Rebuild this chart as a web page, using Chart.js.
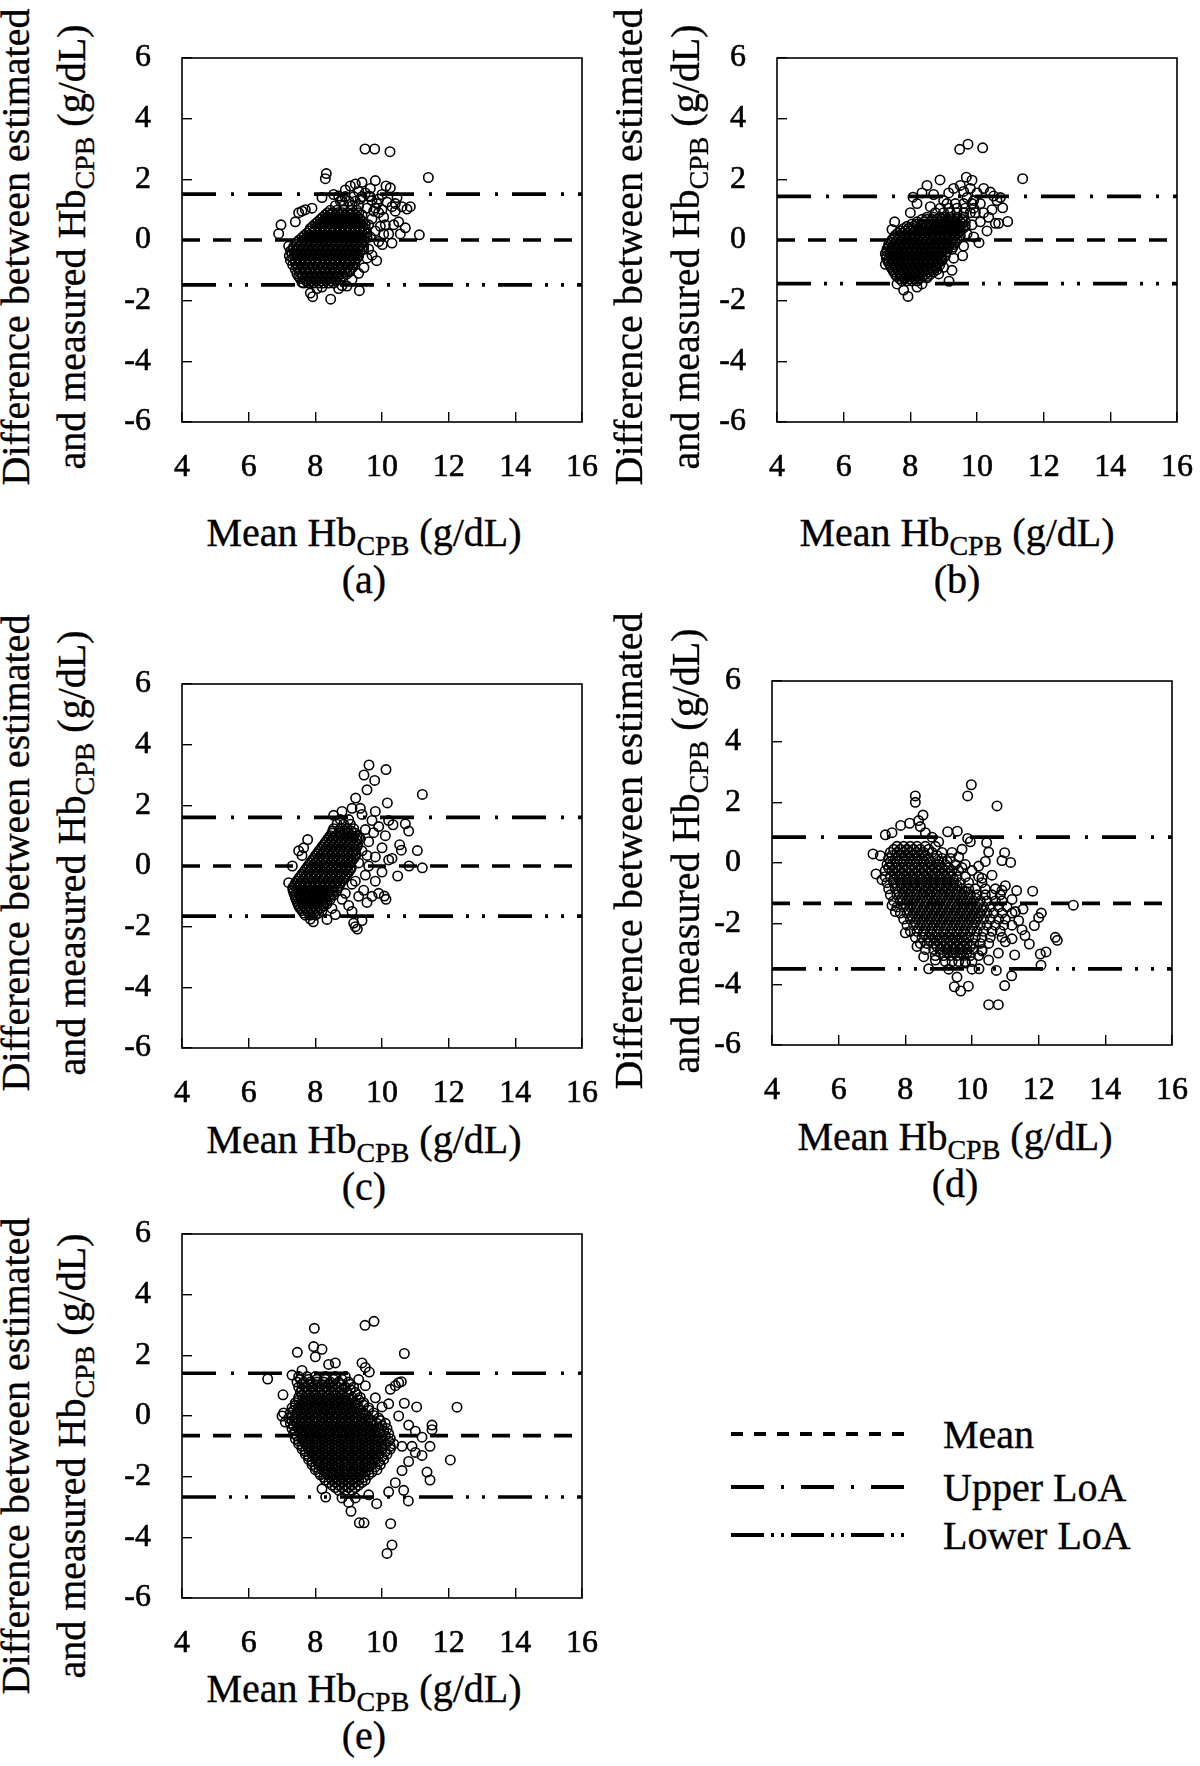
<!DOCTYPE html>
<html><head><meta charset="utf-8">
<script src="https://cdn.jsdelivr.net/npm/chart.js@4.4.1/dist/chart.umd.min.js"></script>
<style>
html,body{margin:0;padding:0;background:#fff;}
body{width:1200px;height:1766px;position:relative;overflow:hidden;font-family:"Liberation Serif","Times New Roman",serif;color:#000;}
canvas{position:absolute;}
.t{position:absolute;white-space:nowrap;font-size:40px;line-height:40px;-webkit-text-stroke:0.35px #000;}
.sub{font-size:28px;line-height:0;position:relative;top:9px;}
.yt{transform:translate(-50%,-50%) rotate(-90deg);}
.xt{transform:translateX(-50%);}
#legend{position:absolute;left:0;top:0;}
</style></head><body>
<svg id="legend" width="1200" height="1766"></svg>
<script>
// ---------------- DATA ----------------
const xTickValues = [4, 6, 8, 10, 12, 14, 16];
const yTickValues = [-6, -4, -2, 0, 2, 4, 6];
const panelNames = ['(a)', '(b)', '(c)', '(d)', '(e)'];
const meanDiff = [0.00, 0.00, 0.00, -1.33, -0.65];
const upperLoA = [1.51, 1.44, 1.60, 0.85, 1.41];
const lowerLoA = [-1.48, -1.44, -1.65, -3.49, -2.67];
const legendLabels = ['Mean', 'Upper LoA', 'Lower LoA'];

// dense cores: [y, [x...]]
const coreA = [
 [-1.42,[7.65,7.8,7.95,8.1,8.25,8.4,8.55]],
 [-1.27,[7.55,7.7,7.85,8.0,8.15,8.3,8.45,8.6,8.75]],
 [-1.12,[7.45,7.6,7.75,7.9,8.05,8.2,8.35,8.5,8.65,8.8,8.95]],
 [-0.97,[7.4,7.55,7.7,7.85,8.0,8.15,8.3,8.45,8.6,8.75,8.9,9.05]],
 [-0.82,[7.32,7.47,7.62,7.77,7.92,8.07,8.22,8.37,8.52,8.67,8.82,8.97,9.12]],
 [-0.67,[7.25,7.4,7.55,7.7,7.85,8.0,8.15,8.3,8.45,8.6,8.75,8.9,9.05,9.2]],
 [-0.52,[7.22,7.37,7.52,7.67,7.82,7.97,8.12,8.27,8.42,8.57,8.72,8.87,9.02,9.17,9.3]],
 [-0.37,[7.25,7.4,7.55,7.7,7.85,8.0,8.15,8.3,8.45,8.6,8.75,8.9,9.05,9.2,9.35]],
 [-0.22,[7.35,7.5,7.65,7.8,7.95,8.1,8.25,8.4,8.55,8.7,8.85,9.0,9.15,9.3,9.45]],
 [-0.07,[7.45,7.6,7.75,7.9,8.05,8.2,8.35,8.5,8.65,8.8,8.95,9.1,9.25,9.4]],
 [0.08,[7.6,7.75,7.9,8.05,8.2,8.35,8.5,8.65,8.8,8.95,9.1,9.25,9.4,9.55]],
 [0.23,[7.75,7.9,8.05,8.2,8.35,8.5,8.65,8.8,8.95,9.1,9.25,9.4,9.55]],
 [0.38,[7.85,8.0,8.15,8.3,8.45,8.6,8.75,8.9,9.05,9.2,9.35,9.5]],
 [0.53,[8.0,8.15,8.3,8.45,8.6,8.75,8.9,9.05,9.2,9.35,9.5]],
 [0.68,[8.15,8.3,8.45,8.6,8.75,8.9,9.05,9.2,9.35]],
 [0.83,[8.3,8.45,8.6,8.75,8.9,9.05,9.2,9.4]],
 [0.98,[8.45,8.65,8.85,9.05,9.25]],
 [1.13,[8.6,8.85,9.1,9.3]],
 [1.28,[8.75,9.0,9.2]],
 [1.43,[8.9,9.15,9.4,9.65]]
];
const coreA2 = [
 [-1.35,[7.72,7.87,8.02,8.17,8.32,8.47,8.62]],
 [-1.2,[7.62,7.77,7.92,8.07,8.22,8.37,8.52,8.67,8.82]],
 [-1.05,[7.52,7.67,7.82,7.97,8.12,8.27,8.42,8.57,8.72,8.87,9.02]],
 [-0.9,[7.47,7.62,7.77,7.92,8.07,8.22,8.37,8.52,8.67,8.82,8.97,9.12]],
 [-0.75,[7.4,7.55,7.7,7.85,8.0,8.15,8.3,8.45,8.6,8.75,8.9,9.05,9.18]],
 [-0.6,[7.32,7.47,7.62,7.77,7.92,8.07,8.22,8.37,8.52,8.67,8.82,8.97,9.12,9.25]],
 [-0.45,[7.3,7.45,7.6,7.75,7.9,8.05,8.2,8.35,8.5,8.65,8.8,8.95,9.1,9.25]],
 [-0.3,[7.32,7.47,7.62,7.77,7.92,8.07,8.22,8.37,8.52,8.67,8.82,8.97,9.12,9.27,9.4]],
 [-0.15,[7.42,7.57,7.72,7.87,8.02,8.17,8.32,8.47,8.62,8.77,8.92,9.07,9.22,9.37]],
 [0.0,[7.52,7.67,7.82,7.97,8.12,8.27,8.42,8.57,8.72,8.87,9.02,9.17,9.32,9.47]],
 [0.15,[7.67,7.82,7.97,8.12,8.27,8.42,8.57,8.72,8.87,9.02,9.17,9.32,9.47]],
 [0.3,[7.82,7.97,8.12,8.27,8.42,8.57,8.72,8.87,9.02,9.17,9.32,9.47]],
 [0.45,[7.92,8.07,8.22,8.37,8.52,8.67,8.82,8.97,9.12,9.27,9.42]],
 [0.6,[8.07,8.22,8.37,8.52,8.67,8.82,8.97,9.12,9.27,9.42]],
 [0.75,[8.22,8.37,8.52,8.67,8.82,8.97,9.12,9.27]],
 [0.9,[8.37,8.52,8.67,8.82,8.97,9.12,9.3]]
];
const sparseA = [[6.9,0.21],[6.97,0.5],[7.2,-0.2],[7.5,0.9],[7.6,0.95],[7.7,1.0],[7.4,0.6],[7.9,1.05],[8.2,1.4],[8.33,2.19],[8.3,2.02],[8.55,1.5],[8.9,1.65],[9.05,1.78],[9.2,1.85],[9.4,1.9],[9.5,1.55],[9.6,1.45],[9.7,1.3],[9.8,1.96],[9.85,1.2],[9.9,0.9],[10.0,1.5],[10.12,1.78],[10.25,1.72],[10.15,1.25],[10.3,1.1],[10.4,0.95],[10.5,0.6],[10.7,0.4],[10.75,1.02],[10.85,1.1],[10.4,1.2],[11.12,0.17],[11.39,2.06],[9.49,3.0],[9.78,3.0],[10.24,2.91],[9.7,0.7],[9.8,0.3],[9.9,-0.05],[10.01,-0.15],[10.2,0.2],[10.3,-0.1],[10.1,0.5],[9.6,-0.3],[9.7,-0.5],[9.84,-0.68],[9.46,-0.91],[9.55,-0.6],[9.32,-1.67],[8.95,-1.52],[9.1,-1.3],[9.3,-1.1],[8.8,-1.5],[8.7,-1.6],[8.46,-1.95],[8.2,-1.55],[7.92,-1.87],[7.85,-1.75],[8.05,-1.6],[7.6,-1.4],[7.5,-1.2],[9.45,-0.3],[9.65,0.1],[9.75,0.95],[10.05,0.75],[10.35,0.5],[10.55,0.2],[9.95,0.45],[10.45,1.4],[10.6,1.1],[9.35,1.35],[9.55,1.05],[8.8,1.3],[9.6,0.5],[9.8,1.05],[9.9,1.35],[10.0,1.0],[10.05,0.2],[9.65,1.7],[9.3,1.6],[8.7,1.45]];

const coreB = [
 [-1.35,[7.75,7.9,8.05,8.2]],
 [-1.2,[7.6,7.75,7.9,8.05,8.2,8.35,8.5]],
 [-1.05,[7.5,7.65,7.8,7.95,8.1,8.25,8.4,8.55,8.7]],
 [-0.9,[7.42,7.57,7.72,7.87,8.02,8.17,8.32,8.47,8.62,8.77]],
 [-0.75,[7.35,7.5,7.65,7.8,7.95,8.1,8.25,8.4,8.55,8.7,8.85]],
 [-0.6,[7.28,7.43,7.58,7.73,7.88,8.03,8.18,8.33,8.48,8.63,8.78,8.93]],
 [-0.45,[7.25,7.4,7.55,7.7,7.85,8.0,8.15,8.3,8.45,8.6,8.75,8.9,9.05]],
 [-0.3,[7.3,7.45,7.6,7.75,7.9,8.05,8.2,8.35,8.5,8.65,8.8,8.95,9.1,9.25]],
 [-0.15,[7.35,7.5,7.65,7.8,7.95,8.1,8.25,8.4,8.55,8.7,8.85,9.0,9.15,9.3]],
 [0.0,[7.45,7.6,7.75,7.9,8.05,8.2,8.35,8.5,8.65,8.8,8.95,9.1,9.25,9.4]],
 [0.15,[7.55,7.7,7.85,8.0,8.15,8.3,8.45,8.6,8.75,8.9,9.05,9.2,9.35,9.5]],
 [0.3,[7.7,7.85,8.0,8.15,8.3,8.45,8.6,8.75,8.9,9.05,9.2,9.35,9.5]],
 [0.45,[7.9,8.1,8.3,8.45,8.6,8.75,8.9,9.05,9.2,9.35,9.5,9.65]],
 [0.6,[8.2,8.4,8.6,8.75,8.9,9.05,9.2,9.35,9.5,9.65]],
 [0.75,[8.5,8.7,8.9,9.05,9.2,9.4,9.6]],
 [0.9,[8.75,9.0,9.2,9.4,9.6,9.8]],
 [1.05,[8.9,9.15,9.4,9.65,9.9]],
 [1.2,[9.1,9.35,9.6,9.85]]
];
const coreB2 = [
 [-1.28,[7.68,7.83,7.98,8.13,8.28]],
 [-1.13,[7.55,7.7,7.85,8.0,8.15,8.3,8.45,8.6]],
 [-0.98,[7.47,7.62,7.77,7.92,8.07,8.22,8.37,8.52,8.67,8.8]],
 [-0.83,[7.4,7.55,7.7,7.85,8.0,8.15,8.3,8.45,8.6,8.75,8.88]],
 [-0.68,[7.32,7.47,7.62,7.77,7.92,8.07,8.22,8.37,8.52,8.67,8.82,8.95]],
 [-0.53,[7.28,7.43,7.58,7.73,7.88,8.03,8.18,8.33,8.48,8.63,8.78,8.93,9.05]],
 [-0.38,[7.3,7.45,7.6,7.75,7.9,8.05,8.2,8.35,8.5,8.65,8.8,8.95,9.1]],
 [-0.23,[7.35,7.5,7.65,7.8,7.95,8.1,8.25,8.4,8.55,8.7,8.85,9.0,9.15,9.28]],
 [-0.08,[7.42,7.57,7.72,7.87,8.02,8.17,8.32,8.47,8.62,8.77,8.92,9.07,9.22,9.35]],
 [0.08,[7.5,7.65,7.8,7.95,8.1,8.25,8.4,8.55,8.7,8.85,9.0,9.15,9.3,9.45]],
 [0.23,[7.62,7.77,7.92,8.07,8.22,8.37,8.52,8.67,8.82,8.97,9.12,9.27,9.42]],
 [0.38,[7.8,7.95,8.1,8.25,8.4,8.55,8.7,8.85,9.0,9.15,9.3,9.45,9.58]],
 [0.53,[8.05,8.2,8.35,8.5,8.65,8.8,8.95,9.1,9.25,9.4,9.55]],
 [0.68,[8.35,8.5,8.65,8.8,8.95,9.1,9.25,9.4,9.55]]
];
const sparseB = [[7.53,0.6],[7.45,0.35],[7.25,-0.8],[7.6,-1.45],[7.8,-1.65],[7.93,-1.86],[8.2,-1.55],[8.5,-1.25],[8.35,-1.45],[8.85,-1.12],[9.16,-1.36],[9.0,-0.9],[9.3,-0.6],[9.57,-0.52],[9.6,-0.2],[9.7,0.2],[9.85,0.5],[10.06,-0.09],[9.9,0.1],[10.1,0.6],[10.2,0.9],[10.3,0.3],[10.45,1.0],[10.55,0.55],[10.65,0.55],[10.92,0.61],[10.77,1.06],[10.6,1.3],[10.5,1.45],[10.7,1.4],[10.4,1.58],[10.2,1.7],[10.0,1.55],[9.85,1.97],[9.68,2.07],[9.5,1.8],[9.3,1.7],[9.15,1.55],[8.89,1.98],[8.7,1.5],[8.5,1.8],[8.35,1.55],[8.08,1.41],[8.2,1.2],[8.0,0.9],[9.9,1.3],[10.1,1.2],[9.48,2.99],[9.73,3.16],[10.17,3.04],[11.37,2.02],[9.95,0.9],[9.7,1.4],[9.0,1.3],[8.6,1.1],[9.25,-1.0],[8.95,-0.65],[9.4,0.35],[10.35,0.75],[9.6,1.6],[9.8,1.7]];

const coreC = [
 [-1.62,[7.7,7.85,8.0]],
 [-1.47,[7.6,7.75,7.9,8.05,8.2]],
 [-1.32,[7.5,7.65,7.8,7.95,8.1,8.25]],
 [-1.17,[7.45,7.6,7.75,7.9,8.05,8.2,8.35]],
 [-1.02,[7.4,7.55,7.7,7.85,8.0,8.15,8.3,8.45]],
 [-0.87,[7.35,7.5,7.65,7.8,7.95,8.1,8.25,8.4,8.55]],
 [-0.72,[7.32,7.47,7.62,7.77,7.92,8.07,8.22,8.37,8.52,8.67]],
 [-0.57,[7.4,7.55,7.7,7.85,8.0,8.15,8.3,8.45,8.6,8.75]],
 [-0.42,[7.5,7.65,7.8,7.95,8.1,8.25,8.4,8.55,8.7,8.85]],
 [-0.27,[7.6,7.75,7.9,8.05,8.2,8.35,8.5,8.65,8.8,8.95]],
 [-0.12,[7.7,7.85,8.0,8.15,8.3,8.45,8.6,8.75,8.9,9.05]],
 [0.03,[7.8,7.95,8.1,8.25,8.4,8.55,8.7,8.85,9.0]],
 [0.18,[7.9,8.05,8.2,8.35,8.5,8.65,8.8,8.95,9.1]],
 [0.33,[8.0,8.15,8.3,8.45,8.6,8.75,8.9,9.05,9.2]],
 [0.48,[8.1,8.25,8.4,8.55,8.7,8.85,9.0,9.15]],
 [0.63,[8.2,8.35,8.5,8.65,8.8,8.95,9.1,9.25]],
 [0.78,[8.3,8.45,8.6,8.75,8.9,9.05,9.2]],
 [0.93,[8.4,8.55,8.7,8.85,9.0,9.15,9.3]],
 [1.08,[8.5,8.7,8.85,9.0,9.2]],
 [1.23,[8.55,8.75,8.95,9.15]],
 [1.38,[8.65,8.85,9.05]],
 [1.53,[8.75,9.0]]
];
const coreC2 = [
 [-1.55,[7.65,7.8,7.95,8.1]],
 [-1.4,[7.55,7.7,7.85,8.0,8.15]],
 [-1.25,[7.48,7.63,7.78,7.93,8.08,8.23,8.35]],
 [-1.1,[7.42,7.57,7.72,7.87,8.02,8.17,8.32,8.45]],
 [-0.95,[7.38,7.53,7.68,7.83,7.98,8.13,8.28,8.43,8.55]],
 [-0.8,[7.33,7.48,7.63,7.78,7.93,8.08,8.23,8.38,8.53,8.65]],
 [-0.65,[7.37,7.52,7.67,7.82,7.97,8.12,8.27,8.42,8.57,8.72]],
 [-0.5,[7.45,7.6,7.75,7.9,8.05,8.2,8.35,8.5,8.65,8.8]],
 [-0.35,[7.55,7.7,7.85,8.0,8.15,8.3,8.45,8.6,8.75,8.9]],
 [-0.2,[7.65,7.8,7.95,8.1,8.25,8.4,8.55,8.7,8.85,9.0]],
 [-0.05,[7.75,7.9,8.05,8.2,8.35,8.5,8.65,8.8,8.95,9.08]],
 [0.1,[7.85,8.0,8.15,8.3,8.45,8.6,8.75,8.9,9.05]],
 [0.25,[7.95,8.1,8.25,8.4,8.55,8.7,8.85,9.0,9.15]],
 [0.4,[8.05,8.2,8.35,8.5,8.65,8.8,8.95,9.1,9.22]],
 [0.55,[8.15,8.3,8.45,8.6,8.75,8.9,9.05,9.2]],
 [0.7,[8.25,8.4,8.55,8.7,8.85,9.0,9.15,9.27]],
 [0.85,[8.35,8.5,8.65,8.8,8.95,9.1,9.25]],
 [1.0,[8.45,8.62,8.78,8.93,9.1,9.25]],
 [1.15,[8.52,8.72,8.9,9.08]]
];
const sparseC = [[7.31,0.0],[7.2,-0.55],[7.5,0.5],[7.6,0.35],[7.77,0.87],[7.65,0.6],[7.94,-1.84],[7.85,-1.75],[8.35,-1.76],[8.6,-1.6],[8.5,-1.4],[8.8,-1.1],[9.0,-1.3],[9.15,-1.88],[9.2,-2.0],[9.26,-2.08],[9.4,-1.8],[9.1,-1.5],[9.3,-1.0],[9.45,-0.8],[9.2,-0.5],[9.5,-0.3],[9.6,0.0],[9.3,0.1],[9.4,0.5],[9.6,0.8],[9.5,1.2],[9.7,1.5],[9.4,1.7],[9.9,-0.9],[10.07,-0.99],[10.12,-1.1],[9.8,-0.5],[10.0,-0.2],[9.8,0.3],[10.0,0.6],[10.2,0.2],[10.47,-0.33],[10.3,0.25],[10.53,0.7],[10.58,0.52],[11.06,0.51],[10.81,0.0],[11.21,-0.06],[10.33,1.36],[10.7,1.39],[10.8,1.15],[10.1,1.0],[9.9,1.3],[10.2,1.5],[9.8,1.8],[10.16,2.08],[9.21,2.24],[9.35,1.9],[9.1,1.9],[8.55,1.67],[8.8,1.8],[9.55,2.51],[9.46,3.0],[9.61,3.33],[9.78,2.82],[10.12,3.18],[11.21,2.36],[9.55,-1.2],[9.7,-1.0],[8.9,-0.9],[9.1,-0.6],[9.35,0.9],[9.55,0.35],[9.75,1.1]];

const coreD = [
 [0.55,[7.75,7.95,8.15,8.35,8.6,8.9]],
 [0.35,[7.55,7.75,7.95,8.15,8.35,8.55,8.8,9.1,9.4]],
 [0.15,[7.5,7.7,7.9,8.1,8.3,8.5,8.7,8.9,9.1,9.35]],
 [-0.05,[7.45,7.6,7.8,8.0,8.2,8.4,8.6,8.8,9.0,9.2,9.5,9.8]],
 [-0.25,[7.4,7.6,7.8,8.0,8.2,8.4,8.6,8.8,9.0,9.2,9.4,9.6,10.0]],
 [-0.45,[7.4,7.55,7.75,7.95,8.15,8.35,8.55,8.75,8.95,9.15,9.35,9.55,9.8,10.2]],
 [-0.65,[7.45,7.65,7.85,8.05,8.25,8.45,8.65,8.85,9.05,9.25,9.45,9.65,9.9,10.3]],
 [-0.85,[7.5,7.7,7.9,8.1,8.3,8.5,8.7,8.9,9.1,9.3,9.5,9.7,9.9,10.1,10.4,10.7]],
 [-1.05,[7.55,7.75,7.95,8.15,8.35,8.55,8.75,8.95,9.15,9.35,9.55,9.75,9.95,10.15,10.4,10.6,10.85]],
 [-1.25,[7.65,7.85,8.05,8.25,8.45,8.65,8.85,9.05,9.25,9.45,9.65,9.85,10.05,10.25,10.45,10.7,10.9]],
 [-1.45,[7.75,7.95,8.15,8.35,8.55,8.75,8.95,9.15,9.35,9.55,9.75,9.95,10.15,10.35,10.55,10.8,11.05]],
 [-1.65,[7.85,8.05,8.25,8.45,8.65,8.85,9.05,9.25,9.45,9.65,9.85,10.05,10.25,10.45,10.65,10.9,11.2]],
 [-1.85,[7.95,8.15,8.35,8.55,8.75,8.95,9.15,9.35,9.55,9.75,9.95,10.15,10.35,10.55,10.8,11.0]],
 [-2.05,[8.05,8.25,8.45,8.65,8.85,9.05,9.25,9.45,9.65,9.85,10.05,10.25,10.45,10.7,10.95,11.2]],
 [-2.25,[8.15,8.35,8.55,8.75,8.95,9.15,9.35,9.55,9.75,9.95,10.15,10.35,10.6,10.85]],
 [-2.45,[8.3,8.5,8.7,8.9,9.1,9.3,9.5,9.7,9.9,10.1,10.3,10.55,10.9]],
 [-2.65,[8.45,8.65,8.85,9.05,9.25,9.45,9.65,9.85,10.05,10.25,10.5]],
 [-2.85,[8.6,8.85,9.05,9.25,9.45,9.65,9.85,10.05,10.3]],
 [-3.05,[8.9,9.15,9.35,9.55,9.75,9.95,10.2]],
 [-3.25,[9.2,9.4,9.6,9.8,10.0]]
];
const coreD2 = [
 [0.45,[7.65,7.85,8.05,8.25,8.45,8.7]],
 [0.25,[7.6,7.8,8.0,8.2,8.4,8.6,8.95]],
 [0.05,[7.55,7.75,7.95,8.15,8.35,8.55,8.75,9.0,9.25]],
 [-0.15,[7.5,7.7,7.9,8.1,8.3,8.5,8.7,8.9,9.1,9.3,9.7]],
 [-0.35,[7.7,7.9,8.1,8.3,8.5,8.7,8.9,9.1,9.3]],
 [-0.55,[7.65,7.85,8.05,8.25,8.45,8.65,8.85,9.05,9.25,9.45]],
 [-0.75,[7.75,7.95,8.15,8.35,8.55,8.75,8.95,9.15,9.35,9.55]],
 [-0.95,[7.8,8.0,8.2,8.4,8.6,8.8,9.0,9.2,9.4,9.6,9.8]],
 [-1.15,[7.9,8.1,8.3,8.5,8.7,8.9,9.1,9.3,9.5,9.7,9.9,10.1]],
 [-1.35,[8.0,8.2,8.4,8.6,8.8,9.0,9.2,9.4,9.6,9.8,10.0,10.2]],
 [-1.55,[8.1,8.3,8.5,8.7,8.9,9.1,9.3,9.5,9.7,9.9,10.1,10.3]],
 [-1.75,[8.2,8.4,8.6,8.8,9.0,9.2,9.4,9.6,9.8,10.0,10.2]],
 [-1.95,[8.3,8.5,8.7,8.9,9.1,9.3,9.5,9.7,9.9,10.1]],
 [-2.15,[8.4,8.6,8.8,9.0,9.2,9.4,9.6,9.8,10.0]],
 [-2.35,[8.6,8.8,9.0,9.2,9.4,9.6,9.8]],
 [-2.55,[8.75,8.95,9.15,9.35,9.55,9.75]],
 [-2.75,[8.95,9.15,9.35,9.55,9.75,9.95]],
 [-2.95,[9.05,9.25,9.45,9.65,9.85]]
];
const sparseD = [[7.03,0.3],[7.25,0.24],[7.12,-0.36],[7.3,-0.55],[7.4,0.93],[7.6,1.0],[7.86,1.24],[8.13,1.31],[8.3,2.21],[8.3,2.0],[8.53,1.58],[8.4,1.4],[8.45,1.2],[8.6,1.0],[8.8,0.85],[9.0,0.7],[9.27,1.03],[9.56,1.05],[9.87,0.81],[9.95,0.7],[9.7,0.45],[9.6,0.2],[9.98,2.58],[9.87,2.21],[10.75,1.88],[10.44,0.67],[10.5,0.36],[10.98,0.34],[10.9,0.08],[11.16,0.02],[10.4,0.05],[10.2,-0.1],[10.3,-0.5],[10.6,-0.4],[10.9,-0.9],[11.34,-0.91],[11.82,-0.93],[11.0,-0.75],[11.2,-1.2],[11.53,-1.52],[11.4,-1.9],[11.3,-1.6],[11.59,-2.39],[11.72,-2.67],[11.87,-2.06],[12.0,-1.8],[12.08,-1.65],[11.5,-2.2],[11.2,-2.5],[11.0,-2.6],[13.04,-1.39],[12.05,-3.0],[12.22,-2.93],[12.07,-3.37],[12.5,-2.45],[12.56,-2.55],[11.28,-3.03],[11.19,-3.72],[10.98,-4.04],[10.5,-4.67],[10.79,-4.67],[10.73,-3.54],[10.79,-2.97],[10.21,-3.49],[10.5,-3.2],[10.3,-2.9],[9.89,-4.06],[9.66,-4.22],[9.47,-4.08],[9.55,-3.76],[9.3,-3.5],[9.8,-3.3],[10.0,-3.5],[8.7,-3.49],[8.55,-3.09],[8.35,-2.75],[8.0,-2.3],[7.6,-1.4],[7.7,-1.6],[8.9,-3.2]];

const coreE = [
 [1.3,[7.5,7.75,8.0,8.3,8.6]],
 [1.12,[7.45,7.65,7.85,8.05,8.25,8.45,8.7,9.0]],
 [0.95,[7.5,7.7,7.9,8.1,8.3,8.5,8.7,8.9,9.15]],
 [0.78,[7.55,7.75,7.95,8.15,8.35,8.55,8.75,8.95,9.2]],
 [0.61,[7.5,7.7,7.9,8.1,8.3,8.5,8.7,8.9,9.1,9.35]],
 [0.44,[7.4,7.6,7.8,8.0,8.2,8.4,8.6,8.8,9.0,9.2,9.45]],
 [0.27,[7.3,7.5,7.7,7.9,8.1,8.3,8.5,8.7,8.9,9.1,9.3,9.6]],
 [0.1,[7.25,7.45,7.65,7.85,8.05,8.25,8.45,8.65,8.85,9.05,9.25,9.45,9.75]],
 [-0.07,[7.2,7.4,7.6,7.8,8.0,8.2,8.4,8.6,8.8,9.0,9.2,9.4,9.6,9.9]],
 [-0.24,[7.25,7.45,7.65,7.85,8.05,8.25,8.45,8.65,8.85,9.05,9.25,9.45,9.65,9.85,10.1]],
 [-0.41,[7.3,7.5,7.7,7.9,8.1,8.3,8.5,8.7,8.9,9.1,9.3,9.5,9.7,9.9,10.15]],
 [-0.58,[7.35,7.55,7.75,7.95,8.15,8.35,8.55,8.75,8.95,9.15,9.35,9.55,9.75,9.95,10.2]],
 [-0.75,[7.4,7.6,7.8,8.0,8.2,8.4,8.6,8.8,9.0,9.2,9.4,9.6,9.8,10.0,10.25]],
 [-0.92,[7.5,7.7,7.9,8.1,8.3,8.5,8.7,8.9,9.1,9.3,9.5,9.7,9.9,10.1,10.35]],
 [-1.09,[7.6,7.8,8.0,8.2,8.4,8.6,8.8,9.0,9.2,9.4,9.6,9.8,10.0,10.25]],
 [-1.26,[7.7,7.9,8.1,8.3,8.5,8.7,8.9,9.1,9.3,9.5,9.7,9.9,10.15]],
 [-1.43,[7.8,8.0,8.2,8.4,8.6,8.8,9.0,9.2,9.4,9.6,9.8,10.05]],
 [-1.6,[7.9,8.1,8.3,8.5,8.7,8.9,9.1,9.3,9.5,9.7,9.95]],
 [-1.77,[8.0,8.2,8.4,8.6,8.8,9.0,9.2,9.4,9.6,9.85]],
 [-1.94,[8.15,8.35,8.55,8.75,8.95,9.15,9.35,9.6]],
 [-2.11,[8.3,8.5,8.7,8.9,9.1,9.3,9.5]],
 [-2.28,[8.5,8.7,8.9,9.1,9.3]],
 [-2.45,[8.7,8.9,9.1]]
];
const coreE2 = [
 [1.21,[7.55,7.8,8.05,8.3,8.55,8.8]],
 [1.04,[7.6,7.8,8.0,8.2,8.4,8.6,8.8,9.05]],
 [0.87,[7.6,7.8,8.0,8.2,8.4,8.6,8.8,9.05]],
 [0.7,[7.6,7.8,8.0,8.2,8.4,8.6,8.8,9.0,9.25]],
 [0.53,[7.5,7.7,7.9,8.1,8.3,8.5,8.7,8.9,9.1,9.3]],
 [0.36,[7.4,7.6,7.8,8.0,8.2,8.4,8.6,8.8,9.0,9.2,9.45]],
 [0.19,[7.35,7.55,7.75,7.95,8.15,8.35,8.55,8.75,8.95,9.15,9.35,9.6]],
 [0.02,[7.3,7.5,7.7,7.9,8.1,8.3,8.5,8.7,8.9,9.1,9.3,9.5,9.75]],
 [-0.15,[7.3,7.5,7.7,7.9,8.1,8.3,8.5,8.7,8.9,9.1,9.3,9.5,9.7,9.95]],
 [-0.32,[7.35,7.55,7.75,7.95,8.15,8.35,8.55,8.75,8.95,9.15,9.35,9.55,9.75,10.0]],
 [-0.49,[7.4,7.6,7.8,8.0,8.2,8.4,8.6,8.8,9.0,9.2,9.4,9.6,9.8,10.05]],
 [-0.66,[7.45,7.65,7.85,8.05,8.25,8.45,8.65,8.85,9.05,9.25,9.45,9.65,9.85,10.1]],
 [-0.83,[7.5,7.7,7.9,8.1,8.3,8.5,8.7,8.9,9.1,9.3,9.5,9.7,9.9,10.2]],
 [-1.0,[7.6,7.8,8.0,8.2,8.4,8.6,8.8,9.0,9.2,9.4,9.6,9.8,10.0,10.25]],
 [-1.17,[7.7,7.9,8.1,8.3,8.5,8.7,8.9,9.1,9.3,9.5,9.7,9.9,10.1]],
 [-1.34,[7.8,8.0,8.2,8.4,8.6,8.8,9.0,9.2,9.4,9.6,9.8,10.0]],
 [-1.51,[7.9,8.1,8.3,8.5,8.7,8.9,9.1,9.3,9.5,9.7,9.9]],
 [-1.68,[8.0,8.2,8.4,8.6,8.8,9.0,9.2,9.4,9.6,9.8]],
 [-1.85,[8.1,8.3,8.5,8.7,8.9,9.1,9.3,9.5,9.7]],
 [-2.02,[8.25,8.45,8.65,8.85,9.05,9.25,9.45]],
 [-2.19,[8.4,8.6,8.8,9.0,9.2,9.4]],
 [-2.36,[8.6,8.8,9.0,9.2]]
];
const sparseE = [[6.57,1.22],[7.03,0.7],[7.0,0.0],[7.05,0.1],[7.1,-0.2],[7.3,1.35],[7.46,2.1],[7.6,1.5],[7.95,2.29],[8.2,2.2],[8.0,1.95],[7.97,2.89],[8.4,1.7],[8.6,1.75],[8.9,1.3],[9.4,1.75],[9.5,1.6],[9.62,1.45],[9.3,1.2],[9.5,1.0],[9.49,2.99],[9.76,3.12],[9.8,0.6],[10.0,0.3],[10.2,0.4],[10.25,0.88],[10.4,1.0],[10.5,1.1],[10.58,1.13],[10.67,2.06],[10.67,0.42],[11.04,0.3],[10.5,0.0],[10.8,-0.3],[11.0,-0.5],[11.2,-0.7],[11.5,-0.3],[11.5,-0.45],[11.44,-1.0],[11.2,-1.3],[11.0,-1.2],[10.8,-1.5],[10.6,-1.8],[11.35,-1.85],[11.44,-2.11],[12.25,0.29],[12.05,-1.45],[10.65,-2.45],[10.79,-2.8],[10.4,-2.2],[10.2,-2.5],[10.26,-3.55],[10.3,-4.25],[10.15,-4.53],[9.32,-3.52],[9.46,-3.52],[9.07,-3.14],[9.84,-2.89],[9.6,-2.6],[9.2,-2.7],[8.31,-2.67],[8.2,-2.4],[8.8,-2.7],[9.0,-2.85],[10.6,-1.0],[10.9,-1.0]];

const coreSets = [[coreA, coreA2], [coreB, coreB2], [coreC, coreC2], [coreD, coreD2], [coreE, coreE2]];
const sparseSets = [sparseA, sparseB, sparseC, sparseD, sparseE];

// ---------------- LAYOUT / STYLE ----------------
const FONT = '"Liberation Serif", "Times New Roman", serif';
Chart.defaults.font.family = FONT;
Chart.defaults.color = '#000';
const frames = [
  {l:182, t:58,   tx:364, tb:546,  yc:247,  y1:29,  y2:85},
  {l:777, t:58,   tx:957, tb:546,  yc:247,  y1:642, y2:699},
  {l:182, t:684,  tx:364, tb:1153, yc:853,  y1:29,  y2:85},
  {l:772, t:681,  tx:955, tb:1150, yc:851,  y1:642, y2:699},
  {l:182, t:1234, tx:364, tb:1702, yc:1456, y1:29,  y2:85}
];
const PW = 400, PH = 364, AL = 70, AT = 25, AR = 25, AB = 60;
const DASH_MEAN = [18, 13];
const DASH_UP = [34, 15, 3, 14];
const DASH_LOW = [34, 13, 3, 13, 3, 13];

const framePlugin = {
  id: 'frame',
  afterDraw(chart) {
    const {ctx, chartArea: a} = chart;
    ctx.save();
    ctx.strokeStyle = '#000';
    ctx.lineWidth = 1.6;
    ctx.strokeRect(a.left, a.top, a.right - a.left, a.bottom - a.top);
    ctx.restore();
  }
};

function rowsToPts(rows) {
  const out = [];
  rows.forEach(([y, xs]) => xs.forEach(x => out.push({x, y})));
  return out;
}
function pairsToPts(p) { return p.map(([x, y]) => ({x, y})); }
function hline(v, dash) {
  return {type: 'scatter', showLine: true, data: [{x: xTickValues[0], y: v}, {x: xTickValues[xTickValues.length - 1], y: v}],
    borderColor: '#000', borderWidth: 3.7, borderDash: dash, pointRadius: 0, fill: false};
}
function addText(html, cls, left, top) {
  const d = document.createElement('div');
  d.className = 't ' + cls;
  d.innerHTML = html;
  d.style.left = left + 'px';
  d.style.top = top + 'px';
  document.body.appendChild(d);
}
function noPad(s) { s.paddingLeft = 0; s.paddingRight = 0; s.paddingTop = 0; s.paddingBottom = 0; }
const XTITLE = 'Mean Hb<span class="sub">CPB</span> (g/dL)';
const YT1 = 'Difference between estimated';
const YT2 = 'and measured Hb<span class="sub">CPB</span> (g/dL)';
const tickFont = {size: 32, family: FONT};

frames.forEach((f, i) => {
  const cv = document.createElement('canvas');
  const W = AL + PW + AR, H = AT + PH + AB;
  cv.width = W; cv.height = H;
  cv.style.left = (f.l - AL) + 'px';
  cv.style.top = (f.t - AT) + 'px';
  cv.style.width = W + 'px'; cv.style.height = H + 'px';
  document.body.appendChild(cv);
  let pts = [];
  coreSets[i].forEach(r => { pts = pts.concat(rowsToPts(r)); });
  pts = pts.concat(pairsToPts(sparseSets[i]));
  new Chart(cv, {
    type: 'scatter',
    data: {datasets: [
      hline(upperLoA[i], DASH_UP),
      hline(meanDiff[i], DASH_MEAN),
      hline(lowerLoA[i], DASH_LOW),
      {data: pts, pointStyle: 'circle', pointRadius: 4.7, pointBorderWidth: 1.6,
       pointBorderColor: '#000', pointBackgroundColor: 'rgba(0,0,0,0)', borderColor: '#000', backgroundColor: 'rgba(0,0,0,0)'}
    ]},
    options: {
      responsive: false, animation: false, devicePixelRatio: 1,
      layout: {padding: {top: AT, right: AR, left: 0, bottom: 0}},
      plugins: {legend: {display: false}, tooltip: {enabled: false}},
      events: [],
      scales: {
        x: {type: 'linear', min: 4, max: 16,
          afterBuildTicks: s => { s.ticks = xTickValues.map(v => ({value: v})); },
          afterFit: s => { s.height = AB; noPad(s); },
          ticks: {font: tickFont, color: '#000', padding: 36, maxRotation: 0, autoSkip: false, textStrokeColor: '#000', textStrokeWidth: 0.6},
          grid: {display: true, drawOnChartArea: false, drawTicks: true, tickLength: -10, color: '#000', lineWidth: 1.4},
          border: {display: false}},
        y: {type: 'linear', min: -6, max: 6,
          afterBuildTicks: s => { s.ticks = yTickValues.map(v => ({value: v})); },
          afterFit: s => { s.width = AL; noPad(s); },
          ticks: {font: tickFont, color: '#000', padding: 41, autoSkip: false, textStrokeColor: '#000', textStrokeWidth: 0.6},
          grid: {display: true, drawOnChartArea: false, drawTicks: true, tickLength: -10, color: '#000', lineWidth: 1.4},
          border: {display: false}}
      }
    },
    plugins: [framePlugin]
  });
  addText(XTITLE, 'xt', f.tx, f.tb - 33.5);
  addText(panelNames[i], 'xt', f.tx, f.tb + 47 - 33.5);
  addText(YT1, 'yt', f.y1 - 13.5, f.yc);
  addText(YT2, 'yt', f.y2 - 13.5, f.yc);
});

// legend
const svg = document.getElementById('legend');
const legY = [1434, 1487, 1535];
const legDash = [[12, 11], [33, 17, 3, 17], [33, 7, 3, 7, 3, 7]];
legendLabels.forEach((lab, k) => {
  const ln = document.createElementNS('http://www.w3.org/2000/svg', 'line');
  ln.setAttribute('x1', 731); ln.setAttribute('x2', k === 2 ? 909 : 904);
  ln.setAttribute('y1', legY[k]); ln.setAttribute('y2', legY[k]);
  ln.setAttribute('stroke', '#000'); ln.setAttribute('stroke-width', 4);
  ln.setAttribute('stroke-dasharray', legDash[k].join(' '));
  svg.appendChild(ln);
  const d = document.createElement('div');
  d.className = 't';
  d.textContent = lab;
  d.style.left = '943px';
  d.style.top = (legY[k] + 14 - 33.5) + 'px';
  document.body.appendChild(d);
});
</script>
</body></html>
